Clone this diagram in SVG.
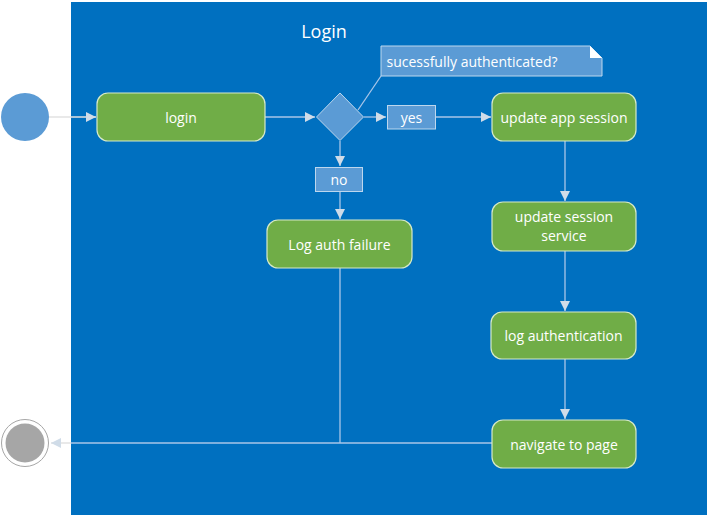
<svg xmlns="http://www.w3.org/2000/svg" width="709" height="517" viewBox="0 0 709 517">
<style>
.act{fill:#70AD47;stroke:#D6E9C8;stroke-width:1.2}
.lbl{fill:#5B9BD5;stroke:#BDD7EE;stroke-width:1}
.t{font-family:"Open Sans","Liberation Sans",sans-serif;font-size:14px;fill:#FFFFFF;text-anchor:middle;dominant-baseline:central}
.c{fill:none;stroke:#A9C6E8;stroke-width:1.3}
</style>
<defs>
<marker id="ah" viewBox="0 0 10 10" refX="10" refY="5" markerWidth="10" markerHeight="10" markerUnits="userSpaceOnUse" orient="auto">
<path d="M0,0 L10,5 L0,10 Z" fill="#D0DCE8"/>
</marker>
</defs>
<rect width="709" height="517" fill="#FFFFFF"/>
<g id="container">
<rect x="71" y="2" width="636" height="513" fill="#0070C0"/>
<text x="324" y="31" class="t" style="font-size:18px">Login</text>
</g>
<g id="connectors">
<line x1="49" y1="117" x2="96" y2="117" stroke="#E2E2E2" stroke-width="1.5" marker-end="url(#ah)"/>
<line x1="265" y1="117" x2="315" y2="117" class="c" marker-end="url(#ah)"/>
<line x1="364" y1="117" x2="386" y2="117" class="c" marker-end="url(#ah)"/>
<line x1="436" y1="117" x2="491" y2="117" class="c" marker-end="url(#ah)"/>
<line x1="358" y1="110" x2="381" y2="76" class="c"/>
<line x1="340" y1="141" x2="340" y2="166" class="c" marker-end="url(#ah)"/>
<line x1="340" y1="192" x2="340" y2="219" class="c" marker-end="url(#ah)"/>
<line x1="565" y1="141" x2="565" y2="201" class="c" marker-end="url(#ah)"/>
<line x1="565" y1="251" x2="565" y2="311" class="c" marker-end="url(#ah)"/>
<line x1="565" y1="359" x2="565" y2="419" class="c" marker-end="url(#ah)"/>
<line x1="340" y1="268" x2="340" y2="443" class="c"/>
<line x1="492" y1="443" x2="71" y2="443" class="c"/>
<line x1="71" y1="443" x2="51" y2="443" stroke="#E2E2E2" stroke-width="1.5" marker-end="url(#ah)"/>
</g>
<g id="start"><circle cx="25" cy="117" r="24" fill="#5B9BD5"/></g>
<g id="end">
<circle cx="25" cy="443" r="23.5" fill="#FFFFFF" stroke="#A6A6A6" stroke-width="1"/>
<circle cx="25" cy="443" r="19.5" fill="#A6A6A6"/>
</g>
<g id="login"><rect class="act" x="97" y="93" width="168" height="48" rx="11"/><text class="t" x="181" y="117">login</text></g>
<g id="decision"><path class="lbl" d="M340,93 L363.5,117 L340,140.5 L316.5,117 Z"/></g>
<g id="note">
<path class="lbl" d="M381,46 L590,46 L602,58 L602,76 L381,76 Z"/>
<path d="M590,46 L602,58 L590,58 Z" fill="#FFFFFF"/>
<text class="t" x="472" y="61">sucessfully authenticated?</text>
</g>
<g id="yes"><rect class="lbl" x="387.5" y="105.5" width="48" height="23.5"/><text class="t" x="411.5" y="117">yes</text></g>
<g id="no"><rect class="lbl" x="315.5" y="167.5" width="47" height="24"/><text class="t" x="339" y="179.5">no</text></g>
<g id="update-app-session"><rect class="act" x="492" y="93" width="144" height="48" rx="11"/><text class="t" x="564" y="117">update app session</text></g>
<g id="log-auth-failure"><rect class="act" x="267" y="220" width="145" height="48" rx="11"/><text class="t" x="339.5" y="244">Log auth failure</text></g>
<g id="update-session-service"><rect class="act" x="492" y="202" width="144" height="49" rx="11"/><text class="t" x="564" y="216">update session</text><text class="t" x="564" y="235">service</text></g>
<g id="log-authentication"><rect class="act" x="491" y="312" width="145" height="47" rx="11"/><text class="t" x="563.5" y="335">log authentication</text></g>
<g id="navigate-to-page"><rect class="act" x="492" y="420" width="144" height="48" rx="11"/><text class="t" x="564" y="444">navigate to page</text></g>
</svg>
